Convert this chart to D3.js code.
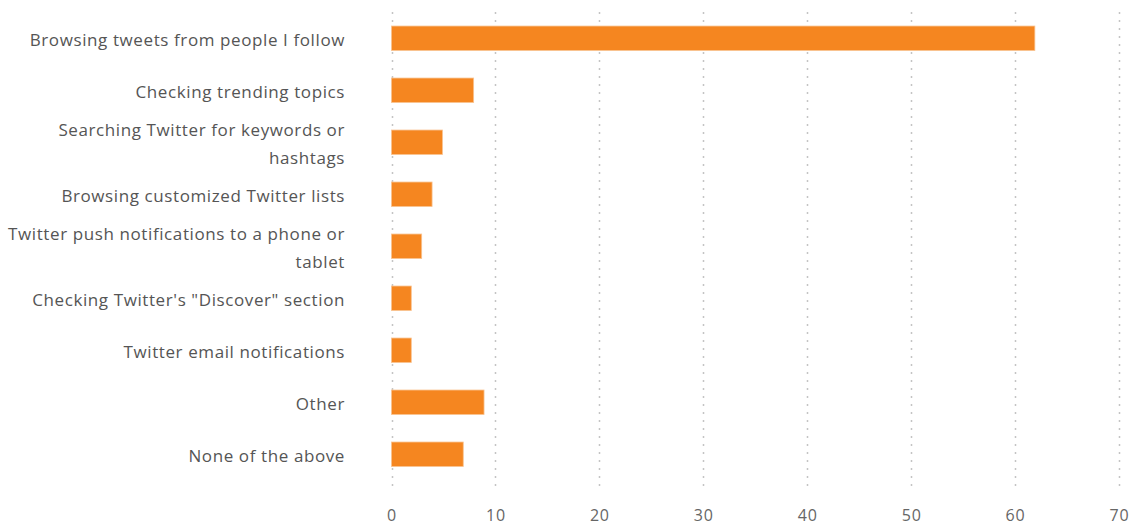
<!DOCTYPE html>
<html>
<head>
<meta charset="utf-8">
<script src="https://cdn.jsdelivr.net/npm/d3@7"></script>
<style>
  html, body { margin: 0; padding: 0; background: #fff; }
  svg { display: block; }
  text { font-family: "Open Sans", sans-serif; }
</style>
</head>
<body>
<svg id="chart" width="1134" height="525"></svg>
<script>
const categories = [
  "Browsing tweets from people I follow",
  "Checking trending topics",
  "Searching Twitter for keywords or hashtags",
  "Browsing customized Twitter lists",
  "Twitter push notifications to a phone or tablet",
  "Checking Twitter's \"Discover\" section",
  "Twitter email notifications",
  "Other",
  "None of the above"
];
const values = [62, 8, 5, 4, 3, 2, 2, 9, 7];
const xTicks = [0, 10, 20, 30, 40, 50, 60, 70];

const svg = d3.select("#chart");
const plot = { left: 391.5, right: 1119, top: 12, bottom: 480.5 };
const FONT = "'Open Sans', sans-serif";

const x = d3.scaleLinear().domain([0, 70]).range([plot.left, plot.right]);
const y = d3.scaleBand().domain(categories).range([plot.top, plot.bottom])
  .paddingInner(0.53).paddingOuter(0.27);

// gridlines
svg.append("g").selectAll("line").data(xTicks).join("line")
  .attr("x1", d => Math.round(x(d)) + 0.5).attr("x2", d => Math.round(x(d)) + 0.5)
  .attr("y1", plot.top).attr("y2", 486)
  .attr("stroke", "#c4c4c4").attr("stroke-width", 1.5)
  .attr("stroke-dasharray", "2,6");

// bars
svg.append("g").selectAll("rect").data(values).join("rect")
  .attr("x", x(0))
  .attr("y", (d, i) => y(categories[i]))
  .attr("width", d => x(d) - x(0) - 1)
  .attr("height", y.bandwidth())
  .attr("fill", "#f58620")
  .attr("stroke", "#f9c28f").attr("stroke-width", 0.8);

// x axis
const xAxis = d3.axisBottom(x).tickValues(xTicks).tickSize(0).tickPadding(0);
const gx = svg.append("g").attr("transform", "translate(0,510)").call(xAxis);
gx.select(".domain").remove();
gx.selectAll("text").attr("fill", "#666").attr("font-size", "16px")
  .attr("letter-spacing", "0.8px")
  .attr("font-family", FONT).attr("dy", "0.71em");

// y axis labels with wrapping
const yAxis = d3.axisLeft(y).tickSize(0).tickPadding(0);
const gy = svg.append("g").attr("transform", "translate(345,0)").call(yAxis);
gy.select(".domain").remove();
const maxW = 340, lineH = 27.5;
gy.selectAll(".tick text").each(function(d) {
  const t = d3.select(this);
  t.attr("fill", "#555").attr("font-size", "17px").attr("letter-spacing", "0.6px")
   .attr("font-family", FONT)
   .attr("x", 0).attr("dy", null).attr("text-anchor", "end");
  const words = d.split(" ");
  t.text(null);
  let lines = [], cur = [];
  let tspan = t.append("tspan");
  words.forEach(w => {
    cur.push(w);
    tspan.text(cur.join(" "));
    if (tspan.node().getComputedTextLength() > maxW && cur.length > 1) {
      cur.pop();
      lines.push(cur.join(" "));
      cur = [w];
      tspan.text(w);
    }
  });
  lines.push(cur.join(" "));
  t.text(null);
  const off = -(lines.length - 1) * lineH / 2;
  lines.forEach((ln, i) => {
    t.append("tspan").attr("x", 0).attr("y", off + i * lineH).attr("dy", "0.45em").text(ln);
  });
});
</script>
</body>
</html>
